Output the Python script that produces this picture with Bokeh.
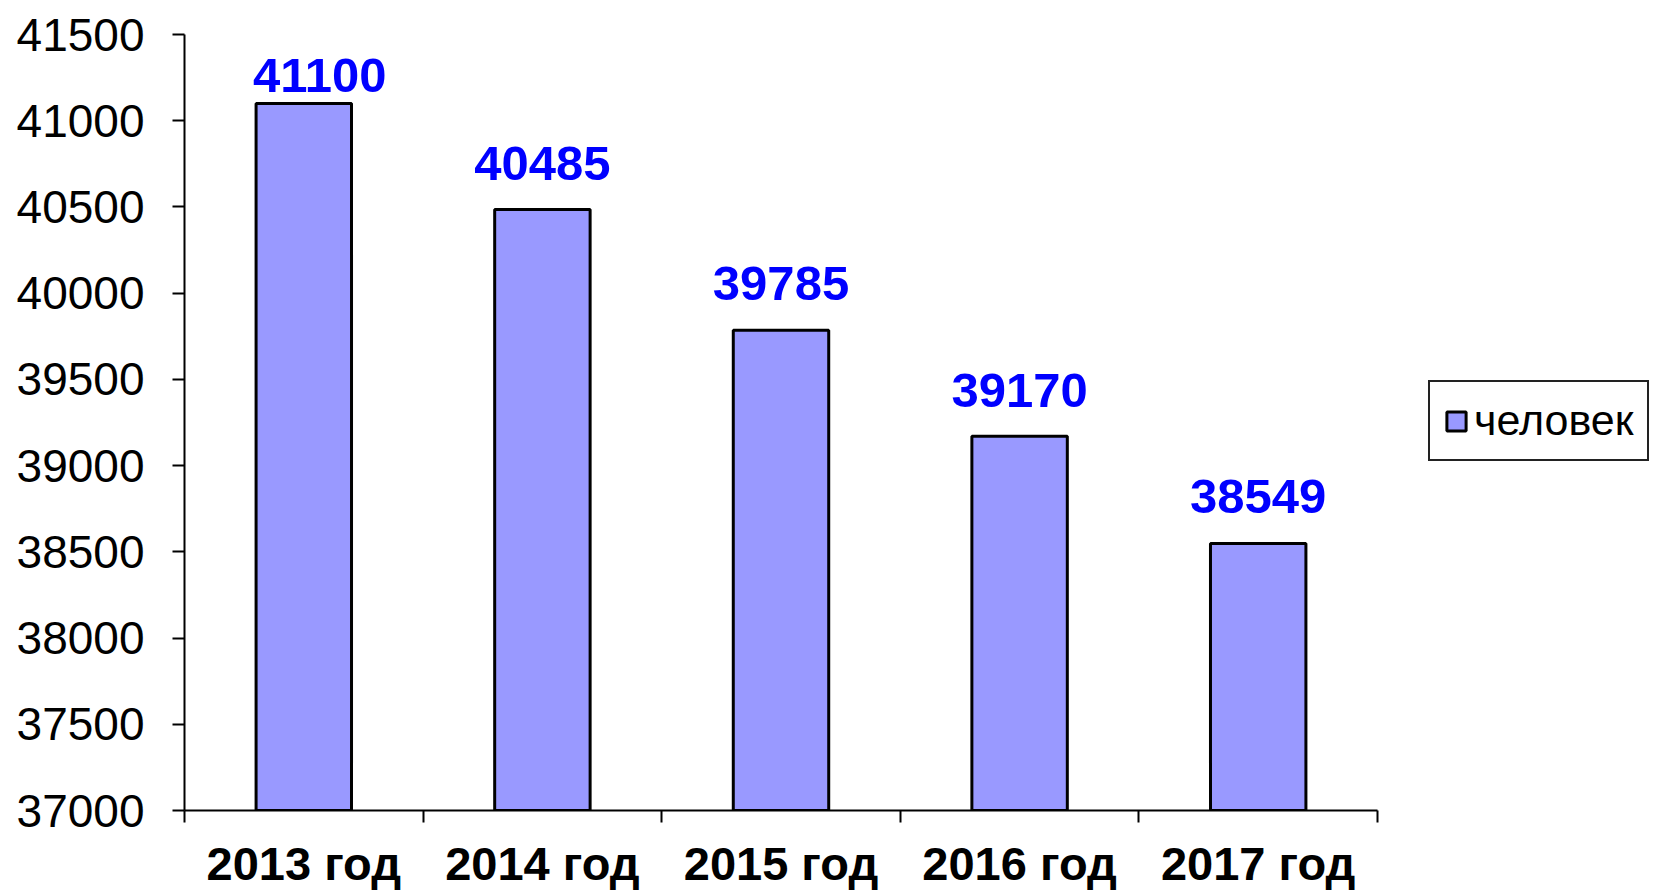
from bokeh.plotting import figure
from bokeh.models import Range1d, FixedTicker, Legend, LegendItem, ColumnDataSource
from bokeh.core.properties import value
from bokeh.embed import file_html
from bokeh.resources import INLINE

categories = ["2013 год", "2014 год", "2015 год", "2016 год", "2017 год"]
people = [41100, 40485, 39785, 39170, 38549]
y_ticks = [37000, 37500, 38000, 38500, 39000, 39500, 40000, 40500, 41000, 41500]
series_name = "человек"

# placement tweaks of the value labels (screen pixels), as in the original
label_dx = [16, 0, 0, 0, 0]
label_dy = [-11, -30, -30, -29, -30]

FONT = "Liberation Sans"
BAR = "#9999FF"

# layout (pixels)
W, H = 1655, 892
LEFT, TOP, BOTTOM = 184, 34, 82
AXIS_W = 1193                # width of the category axis
FRAME_W = W - LEFT           # frame also holds the legend on the right

n = len(categories)
xs = [i + 0.5 for i in range(n)]
src = ColumnDataSource(dict(x=xs, top=people, lbl=[str(v) for v in people],
                            dx=label_dx, dy=label_dy))

p = figure(width=W, height=H, output_backend="svg", toolbar_location=None,
           x_range=Range1d(0, n * FRAME_W / AXIS_W), y_range=Range1d(y_ticks[0], y_ticks[-1]),
           min_border_left=LEFT, min_border_right=0, min_border_top=TOP, min_border_bottom=BOTTOM)
p.outline_line_color = None
p.xgrid.grid_line_color = None
p.ygrid.grid_line_color = None
p.background_fill_color = "white"
p.border_fill_color = "white"

bars = p.vbar(x="x", top="top", bottom=y_ticks[0], width=0.4, source=src,
              fill_color=BAR, line_color="black", line_width=3)

p.text(x="x", y="top", text="lbl", source=src, x_offset="dx", y_offset="dy",
       text_align="center", text_baseline="bottom",
       text_font=value(FONT), text_font_style="bold", text_font_size="49px",
       text_color="#0000FF")

# x axis: ticks at category boundaries (minor), labels at centres (major)
xa = p.xaxis[0]
xa.bounds = (0, n)
xa.ticker = FixedTicker(ticks=xs, minor_ticks=list(range(n + 1)))
xa.major_label_overrides = {x: c for x, c in zip(xs, categories)}
xa.major_tick_out = 0
xa.major_tick_in = 0
xa.minor_tick_out = 12
xa.minor_tick_in = 0
xa.minor_tick_line_color = "black"
xa.minor_tick_line_width = 2
xa.axis_line_color = "black"
xa.axis_line_width = 2
xa.major_label_standoff = 14
xa.major_label_text_font = FONT
xa.major_label_text_font_style = "bold"
xa.major_label_text_font_size = "47px"
xa.major_label_text_color = "black"

ya = p.yaxis[0]
ya.ticker = FixedTicker(ticks=y_ticks, minor_ticks=[])
ya.major_tick_out = 12
ya.major_tick_in = 0
ya.minor_tick_out = 0
ya.minor_tick_in = 0
ya.major_tick_line_color = "black"
ya.major_tick_line_width = 2
ya.axis_line_color = "black"
ya.axis_line_width = 2
ya.major_label_standoff = 28
ya.major_label_text_font = FONT
ya.major_label_text_font_size = "46px"
ya.major_label_text_color = "black"

legend = Legend(items=[LegendItem(label=series_name, renderers=[bars])],
                location=(1244, 349), orientation="vertical",
                label_text_font=FONT, label_text_font_size="43px",
                label_text_color="black", glyph_width=24, glyph_height=24,
                label_standoff=6, padding=14, spacing=0, margin=0,
                border_line_color="#222222", border_line_width=2, border_line_alpha=1.0,
                background_fill_color="white", background_fill_alpha=1)
p.add_layout(legend, "center")

open("out.html", "w").write(file_html(p, INLINE))
